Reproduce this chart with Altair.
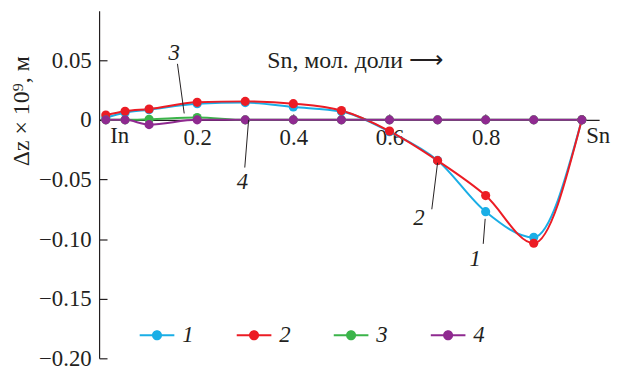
import altair as alt
import pandas as pd

# ---- data ----
x_vals = [0.01, 0.05, 0.1, 0.2, 0.3, 0.4, 0.5, 0.6, 0.7, 0.8, 0.9, 1.0]
s1 = [0.002, 0.006, 0.0085, 0.0135, 0.0145, 0.0108, 0.0070, -0.0100, -0.0340, -0.0770, -0.0985, 0.0]
s2 = [0.0040, 0.0072, 0.0091, 0.0147, 0.0155, 0.0136, 0.0078, -0.0094, -0.0342, -0.0635, -0.1035, 0.0]
s3 = [0.0, 0.0, 0.0005, 0.002, 0.0, 0.0, 0.0, 0.0, 0.0, 0.0, 0.0, 0.0]
s4 = [0.0, 0.0, -0.004, 0.0, 0.0, 0.0, 0.0, 0.0, 0.0, 0.0, 0.0, 0.0]
series_names = ["1", "2", "3", "4"]
series_colors = ["#1aaee6", "#ec1c24", "#3bb44a", "#8f2a90"]

x_ticks = [0.2, 0.4, 0.6, 0.8]
y_ticks = [-0.20, -0.15, -0.10, -0.05, 0.0, 0.05]

# annotation labels for the curves
ann_text = ["3", "4", "2", "1"]
ann_x = [0.152, 0.294, 0.661, 0.778]
ann_y = [0.056, -0.052, -0.082, -0.117]
lead_x = [0.159, 0.299, 0.688, 0.795]
lead_y = [0.047, -0.040, -0.075, -0.104]
lead_x2 = [0.173, 0.307, 0.700, 0.799]
lead_y2 = [0.0054, 0.0, -0.036, -0.083]

# axis end labels and axis caption
end_text = ["In", "Sn"]
end_x = [0.039, 1.034]
end_y = [-0.0137, -0.0137]
caption = "Sn, мол. доли \u27f6"
caption_x = 0.346
caption_y = 0.049

FONT = "Liberation Serif"
INK = "#231f20"
FS = 23

rows = []
for name, vals in zip(series_names, [s1, s2, s3, s4]):
    for xv, yv in zip(x_vals, vals):
        rows.append({"series": name, "x": xv, "y": yv})
df = pd.DataFrame(rows)

ann_df = pd.DataFrame({"t": ann_text, "x": ann_x, "y": ann_y})
lead_df = pd.DataFrame({"x": lead_x, "y": lead_y, "x2": lead_x2, "y2": lead_y2})
end_df = pd.DataFrame({"t": end_text, "x": end_x, "y": end_y})
cap_df = pd.DataFrame({"t": [caption], "x": [caption_x], "y": [caption_y]})

Y_MIN, Y_MAX = -0.20, 0.0915
xscale = alt.Scale(domain=[-0.004, 1.036], nice=False, zero=False)
yscale = alt.Scale(domain=[Y_MIN, Y_MAX], nice=False, zero=False)
cscale = alt.Scale(domain=series_names, range=series_colors)

W, H = 505, 351

x_axis = alt.Axis(
    orient="top", offset=-(Y_MAX / (Y_MAX - Y_MIN) * H), values=x_ticks, format=".1f",
    title=None, grid=False, ticks=True, tickSize=6, labelBaseline="top", labelPadding=-13,
    labelFont=FONT, labelFontSize=FS, labelFontWeight="normal", labelColor=INK,
    domainColor=INK, tickColor=INK, domainWidth=1.2, tickWidth=1.2,
    labelFlush=False, labelOverlap=False,
)
y_axis = alt.Axis(
    orient="right", offset=-W, values=y_ticks,
    labelExpr="datum.value == 0 ? '0' : format(datum.value, '.2f')",
    title="\u0394z \u00d7 10\u2079, \u043c", titleAngle=270, titleX=-78, titleY=101,
    titleAlign="center", titleBaseline="middle", titleFont=FONT, titleFontSize=24,
    titleFontWeight="normal", titleColor=INK,
    grid=False, ticks=True, tickSize=8, labelAlign="right", labelBaseline="middle",
    labelPadding=-16,
    labelFont=FONT, labelFontSize=FS, labelFontWeight="normal", labelColor=INK,
    domainColor=INK, tickColor=INK, domainWidth=1.2, tickWidth=1.2,
    labelFlush=False, labelOverlap=False,
)

X = alt.X("x:Q", scale=xscale, axis=x_axis)
Y = alt.Y("y:Q", scale=yscale, axis=y_axis)

legend_path = ("M-1,-0.06H1V0.06H-1Z "
               "M-0.29,0A0.29,0.29 0 1,1 0.29,0A0.29,0.29 0 1,1 -0.29,0Z")

# one line layer per series, coloured directly (no extra legend)
line_layers = []
for name, col in zip(series_names, series_colors):
    line_layers.append(
        alt.Chart(df).transform_filter(alt.datum.series == name)
        .mark_line(interpolate="monotone", strokeWidth=2, color=col)
        .encode(x=X, y=Y, order=alt.Order("x:Q"))
    )

points = alt.Chart(df).mark_circle(size=85, opacity=1).encode(
    x=X, y=Y,
    color=alt.Color(
        "series:N", scale=cscale,
        legend=alt.Legend(
            title=None, orient="none", legendX=41, legendY=310, direction="horizontal",
            symbolType=legend_path, symbolSize=1225, symbolStrokeWidth=0,
            labelFont=FONT, labelFontSize=FS, labelFontStyle="italic", labelColor=INK,
            labelOffset=8, columnPadding=43, padding=0, symbolOpacity=1,
        ),
    ),
)

leads = alt.Chart(lead_df).mark_rule(color=INK, strokeWidth=1).encode(
    x=X, y=Y, x2="x2:Q", y2="y2:Q"
)
ann = alt.Chart(ann_df).mark_text(
    font=FONT, fontSize=FS, fontStyle="italic", color=INK, baseline="middle", align="center"
).encode(x=X, y=Y, text="t:N")
ends = alt.Chart(end_df).mark_text(
    font=FONT, fontSize=FS, color=INK, baseline="middle", align="center"
).encode(x=X, y=Y, text="t:N")
cap = alt.Chart(cap_df).mark_text(
    font=FONT, fontSize=24, color=INK, baseline="middle", align="left"
).encode(x=X, y=Y, text="t:N")

chart = alt.layer(*line_layers, points, leads, ann, ends, cap).properties(
    width=W, height=H,
    autosize=alt.AutoSizeParams(type="none"),
    padding={"left": 92, "top": 1, "right": 12, "bottom": 10},
).configure(
    background="white", font=FONT,
    style={"guide-label": {"font": FONT, "fontWeight": "normal"},
           "guide-title": {"font": FONT, "fontWeight": "normal"}},
).configure_axis(
    labelFont=FONT, titleFont=FONT, labelFontWeight="normal"
).configure_legend(
    labelFont=FONT
).configure_view(stroke=None)

chart.save("out.html", embed_options={"renderer": "svg", "actions": False})
